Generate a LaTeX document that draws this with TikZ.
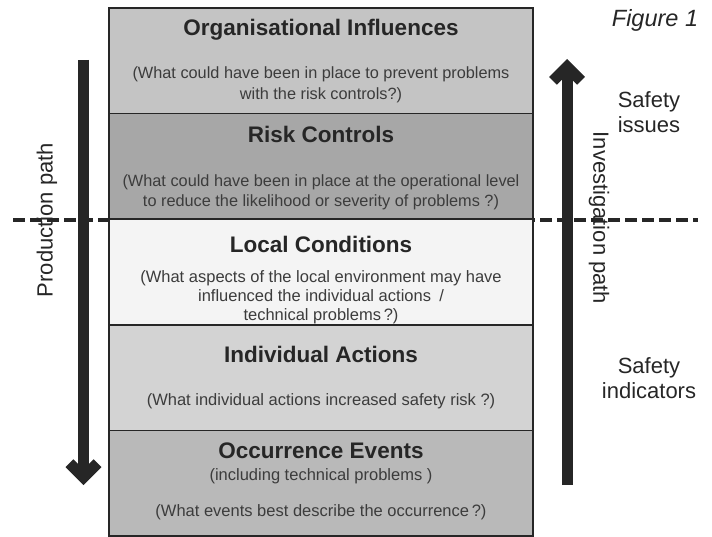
\documentclass[tikz,border=0pt]{standalone}
\usepackage{fontspec}
\setmainfont{Liberation Sans}
\usetikzlibrary{positioning,arrows.meta}

\definecolor{orgfill}{HTML}{C4C4C4}
\definecolor{riskfill}{HTML}{A7A7A7}
\definecolor{localfill}{HTML}{F4F4F4}
\definecolor{actfill}{HTML}{D3D3D3}
\definecolor{eventfill}{HTML}{B9B9B9}
\definecolor{ink}{HTML}{262626}

\tikzset{
  band/.style={draw=ink, line width=1.5pt, minimum width=424pt, minimum height=105.6pt,
    inner sep=0pt, outer sep=0pt},
  title/.style={text=ink, font=\fontsize{22.5}{27}\selectfont\bfseries},
  question/.style={text=ink!90, align=center, font=\fontsize{16.3}{21}\selectfont},
  bigquestion/.style={text=ink!90, align=center, font=\fontsize{16.5}{19}\selectfont},
  sidelabel/.style={text=ink, align=center, font=\fontsize{22}{25}\selectfont},
  patharrow/.style={draw=ink, line width=11pt,
    -{Straight Barb[length=14pt, width=28pt, line join=miter, line cap=butt]}},
  divider/.style={draw=ink, line width=3.8pt, dash pattern=on 12pt off 5pt},
}

\begin{document}
\begin{tikzpicture}[x=1pt, y=-1pt]
\useasboundingbox (0,0) rectangle (712,537);

% dashed split between safety issues and indicators
\coordinate (divL) at (13,220);
\coordinate (divR) at (698,220);
\draw[divider] (divL) -- (divR);

% the five levels
\node[band, fill=orgfill] (org) at (321,60.8) {};
\node[band, fill=riskfill, below=0pt of org] (risk) {};
\node[band, fill=localfill, below=0pt of risk] (local) {};
\node[band, fill=actfill, below=0pt of local] (act) {};
\node[band, fill=eventfill, below=0pt of act] (event) {};

\node[title] (orgT) at ([yshift=-22pt]org.north) {Organisational Influences};
\node[question] (orgQ) at ([yshift=-77pt]org.north)
  {(What could have been in place to prevent problems\\with the risk controls?)};
\node[title] (riskT) at ([yshift=-21pt]risk.north) {Risk Controls};
\node[question, font=\fontsize{16.3}{20}\selectfont] (riskQ) at ([yshift=-79pt]risk.north)
  {(What could have been in place at the operational level\\to reduce the likelihood or severity of problems ?)};
\node[title] (localT) at ([yshift=-25pt]local.north) {Local Conditions};
\node[bigquestion] (localQ) at ([yshift=-78pt]local.north)
  {(What aspects of the local environment may have\\influenced the individual actions\enspace/\\technical problems\,?)};
\node[title] (actT) at ([yshift=-30pt]act.north) {Individual Actions};
\node[bigquestion] (actQ) at ([yshift=-76pt]act.north)
  {(What individual actions increased safety risk ?)};
\node[title] (eventT) at ([yshift=-20pt]event.north) {Occurrence Events};
\node[bigquestion] (eventS) at ([yshift=-46pt]event.north) {(including technical problems )};
\node[bigquestion] (eventQ) at ([yshift=-82pt]event.north)
  {(What events best describe the occurrence\,?)};

% production and investigation paths
\coordinate (prodTop) at (83.5,60);
\coordinate (prodTip) at (83.5,485);
\draw[patharrow] (prodTop) -- (prodTip);
\node[sidelabel, rotate=90] (prodL) at (47,220) {Production path};

\coordinate (invBase) at (567,485);
\coordinate (invTip) at (567,59);
\draw[patharrow] (invBase) -- (invTip);
\node[sidelabel, rotate=-90] (invL) at (599,218) {Investigation path};

\node[sidelabel] (issues) at (649,112) {Safety\\issues};
\node[sidelabel] (indic) at (649,378) {Safety\\indicators};
\node[sidelabel, font=\fontsize{23.5}{26}\selectfont\itshape] (fig) at (655,20) {Figure 1};
\end{tikzpicture}
\end{document}
